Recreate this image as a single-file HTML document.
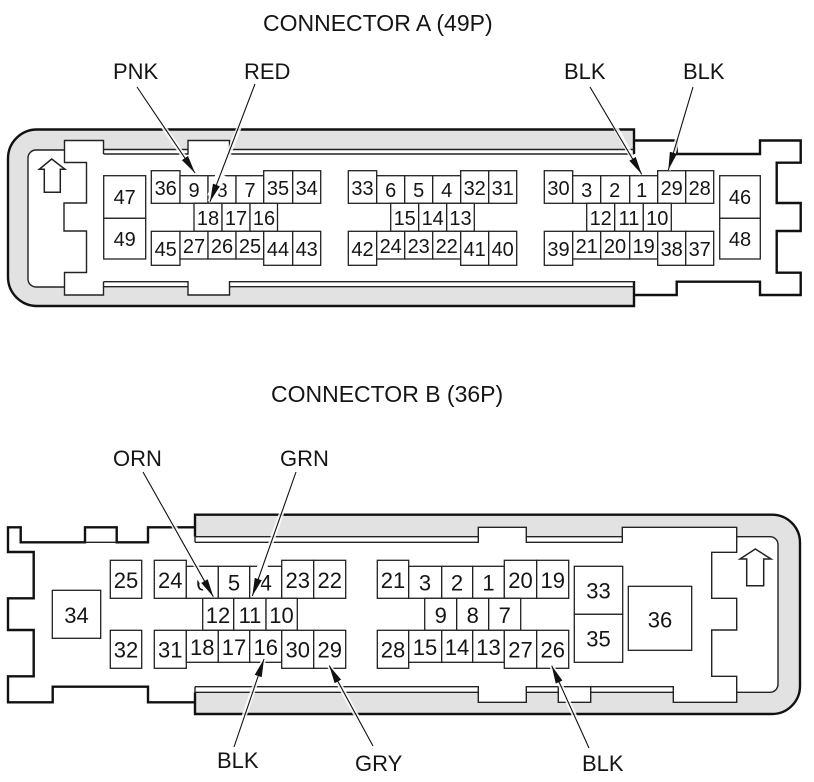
<!DOCTYPE html>
<html><head><meta charset="utf-8"><style>
html,body{margin:0;padding:0;background:#fff;width:814px;height:782px;overflow:hidden}
svg{display:block}
text{font-family:"Liberation Sans",sans-serif;fill:#151515}
.t{font-size:22px}
.tt{font-size:23px}
.a text{font-size:20px;text-anchor:middle}
.b text{font-size:22px;text-anchor:middle}
.p rect{fill:#fff;stroke:#222;stroke-width:1.3}
.o{fill:none;stroke:#111;stroke-width:2.4}
.l{fill:none;stroke:#222;stroke-width:1.4}
.h{stroke:#fff;stroke-width:5;opacity:.85}
.hh{stroke:#fff;stroke-width:10}
.k{stroke:#111;stroke-width:1.1;marker-end:url(#m)}
</style></head><body>
<svg width="814" height="782" viewBox="0 0 814 782" xmlns="http://www.w3.org/2000/svg">
<defs><marker id="m" markerUnits="userSpaceOnUse" markerWidth="20" markerHeight="10" refX="18" refY="4" orient="auto"><path d="M0,0.3 L18,4 L0,7.7 Z" fill="#111"/></marker></defs>
<rect width="814" height="782" fill="#fff"/>

<text class="tt" x="263" y="31">CONNECTOR A (49P)</text>
<text class="t" x="113" y="79">PNK</text>
<text class="t" x="244" y="79">RED</text>
<text class="t" x="564" y="79">BLK</text>
<text class="t" x="683" y="79">BLK</text>
<text class="tt" x="271" y="402">CONNECTOR B (36P)</text>
<text class="t" x="113" y="466">ORN</text>
<text class="t" x="280" y="466">GRN</text>
<text class="t" x="217" y="768">BLK</text>
<text class="t" x="355" y="771">GRY</text>
<text class="t" x="582" y="771">BLK</text>

<!-- Connector A body -->
<path d="M634,129.5 H37 a29,29 0 0 0 -29,29 V277 a29,29 0 0 0 29,29 H634 Z" fill="#e2e2e2"/>
<path d="M36,150 H64.5 V140.5 H103.5 V149.5 H188 V140.5 H229.5 V149.5 H634 V286.7 H229.5 V295 H188 V286.7 H103.5 V295 H64.5 V287 H36 a8,8 0 0 1 -8,-8 V158 a8,8 0 0 1 8,-8 Z" fill="#fff"/>
<path class="o" d="M634,154 V129.5 H37 a29,29 0 0 0 -29,29 V277 a29,29 0 0 0 29,29 H634 V281"/>
<path class="l" d="M64.5,150 H36 a8,8 0 0 0 -8,8 V279 a8,8 0 0 0 8,8 H64.5"/>
<path class="l" d="M103.5,154 V140.5 H64.5 V162.5 H86.5 V203 H64 V231 H86.5 V272.5 H64.5 V295 H103.5 V281.7"/>
<path class="l" d="M103.5,149.5 H188 M103.5,154 H188 V140.5 H229.5 V154 H634 M229.5,149.5 H634"/>
<path class="l" d="M103.5,281.7 H188 V295 H229.5 V281.7 H634 M103.5,286.7 H188 M229.5,286.7 H634"/>
<path class="o" d="M634,140.5 H676.7 V154 H760 V140.5 H800.7 V162.7 H776.7 V203 H800.7 V231 H776.7 V272.7 H800.7 V295 H760 V281.7 H676.7 V295 H634"/>
<path d="M51.7,159 L65,169.3 H60.3 V192.3 H44.3 V169.3 H39.3 Z" fill="#fff" stroke="#222" stroke-width="1.5"/>

<!-- Connector A pins -->
<g class="p">
<rect x="103.7" y="175.7" width="42" height="42.6"/><rect x="103.7" y="218.3" width="42" height="40.7"/>
<rect x="151.3" y="170.7" width="28.7" height="32.6"/><rect x="180" y="175.7" width="28" height="27.6"/><rect x="208" y="175.7" width="28" height="27.6"/><rect x="236" y="175.7" width="27.7" height="27.6"/><rect x="263.7" y="170.7" width="29" height="32.6"/><rect x="292.7" y="170.7" width="28" height="32.6"/>
<rect x="194" y="203.3" width="28" height="28"/><rect x="222" y="203.3" width="28" height="28"/><rect x="250" y="203.3" width="27.5" height="28"/>
<rect x="151.3" y="231.3" width="28.7" height="34"/><rect x="180" y="231.3" width="28" height="27.7"/><rect x="208" y="231.3" width="28" height="27.7"/><rect x="236" y="231.3" width="27.7" height="27.7"/><rect x="263.7" y="231.3" width="29" height="34"/><rect x="292.7" y="231.3" width="28" height="34"/>

<rect x="348.3" y="170.7" width="28.4" height="32.6"/><rect x="376.7" y="175.7" width="28" height="27.6"/><rect x="404.7" y="175.7" width="28" height="27.6"/><rect x="432.7" y="175.7" width="28" height="27.6"/><rect x="460.7" y="170.7" width="28" height="32.6"/><rect x="488.7" y="170.7" width="28" height="32.6"/>
<rect x="390.7" y="203.3" width="28" height="28"/><rect x="418.7" y="203.3" width="28" height="28"/><rect x="446.7" y="203.3" width="27.6" height="28"/>
<rect x="348.3" y="231.3" width="28.4" height="34"/><rect x="376.7" y="231.3" width="28" height="27.7"/><rect x="404.7" y="231.3" width="28" height="27.7"/><rect x="432.7" y="231.3" width="28" height="27.7"/><rect x="460.7" y="231.3" width="28" height="34"/><rect x="488.7" y="231.3" width="28" height="34"/>

<rect x="544.3" y="170.7" width="28.4" height="32.6"/><rect x="572.7" y="175.7" width="28" height="27.6"/><rect x="600.7" y="175.7" width="29" height="27.6"/><rect x="629.7" y="175.7" width="28" height="27.6"/><rect x="657.7" y="170.7" width="28" height="32.6"/><rect x="685.7" y="170.7" width="28" height="32.6"/>
<rect x="586.7" y="203.3" width="28" height="28"/><rect x="614.7" y="203.3" width="28.6" height="28"/><rect x="643.3" y="203.3" width="28" height="28"/>
<rect x="544.3" y="231.3" width="28.4" height="34"/><rect x="572.7" y="231.3" width="28" height="27.7"/><rect x="600.7" y="231.3" width="29" height="27.7"/><rect x="629.7" y="231.3" width="28" height="27.7"/><rect x="657.7" y="231.3" width="28" height="34"/><rect x="685.7" y="231.3" width="28" height="34"/>
<rect x="719.7" y="175.7" width="40.6" height="42.6"/><rect x="719.7" y="218.3" width="40.6" height="40.7"/>
</g>
<g class="a">
<text x="124.7" y="204">47</text><text x="124.7" y="246">49</text>
<text x="165.7" y="195">36</text><text x="194" y="197">9</text><text x="222" y="197">8</text><text x="250" y="197">7</text><text x="278" y="195">35</text><text x="306.7" y="195">34</text>
<text x="208" y="225">18</text><text x="236" y="225">17</text><text x="264" y="225">16</text>
<text x="165.7" y="256">45</text><text x="194" y="253">27</text><text x="222" y="253">26</text><text x="250" y="253">25</text><text x="278" y="256">44</text><text x="306.7" y="256">43</text>
<text x="362.5" y="195">33</text><text x="390.7" y="197">6</text><text x="418.7" y="197">5</text><text x="446.7" y="197">4</text><text x="474.7" y="195">32</text><text x="502.7" y="195">31</text>
<text x="404.7" y="225">15</text><text x="432.7" y="225">14</text><text x="460.5" y="225">13</text>
<text x="362.5" y="256">42</text><text x="390.7" y="253">24</text><text x="418.7" y="253">23</text><text x="446.7" y="253">22</text><text x="474.7" y="256">41</text><text x="502.7" y="256">40</text>
<text x="558.5" y="195">30</text><text x="586.7" y="197">3</text><text x="614.7" y="197">2</text><text x="641.7" y="197">1</text><text x="671.7" y="195">29</text><text x="699.7" y="195">28</text>
<text x="600.7" y="225">12</text><text x="629" y="225">11</text><text x="657.3" y="225">10</text>
<text x="558.5" y="256">39</text><text x="586.7" y="253">21</text><text x="615" y="253">20</text><text x="643.7" y="253">19</text><text x="671.7" y="256">38</text><text x="699.7" y="256">37</text>
<text x="740" y="204">46</text><text x="740" y="246">48</text>
</g>

<!-- Connector B body -->
<path d="M195,514.7 H772 a28,28 0 0 1 28,28 V686 a28,28 0 0 1 -28,28 H195 Z" fill="#e2e2e2"/>
<path d="M195,536.7 H478.3 V527.3 H526.3 V536.7 H622.3 V527.3 H736.7 V536.7 H770 a8,8 0 0 1 8,8 V684.3 a8,8 0 0 1 -8,8 H736.7 V702.3 H673.3 V692.3 H590.7 V702.3 H558.3 V692.3 H526.3 V702.3 H478.3 V692.3 H195 Z" fill="#fff"/>
<path class="o" d="M195,536.7 V514.7 H772 a28,28 0 0 1 28,28 V686 a28,28 0 0 1 -28,28 H195 V692.3"/>
<path class="l" d="M195,536.7 H478.3 M526.3,536.7 H622.3 M195,542.3 H478.3 V527.3 H526.3 V542.3 H622.3 V527.3 H736.7 V552.3 H711.7 V598.3 H736.7 V630 H711.7 V676.3 H736.7 V702.3 H673.3 V686.7 H526.3 V702.3 H478.3 V686.7 H195"/>
<path class="l" d="M736.7,536.7 H770 a8,8 0 0 1 8,8 V684.3 a8,8 0 0 1 -8,8 H736.7"/>
<path class="l" d="M195,692.3 H478.3 M526.3,692.3 H558.3 M590.7,692.3 H673.3 M558.3,686.7 V702.3 H590.7 V686.7"/>
<path class="l" d="M195,536.7 V542.3 M195,686.7 V692.3"/>
<path class="o" d="M195,527.3 H148 V542.3 H116.7 V527.3 H85 V542.3 H20.7 V527.3 H8 V552 H33.7 V598.3 H8 V630 H33.7 V676.3 H8 V702.3 H52.7 V686.7 H148 V702.3 H195"/>
<path d="M85,542.3 H116.7" stroke="#222" stroke-width="1.4" fill="none"/>
<path d="M755.3,549 L771,559 H763.7 V585.7 H746.7 V559 H740 Z" fill="#fff" stroke="#222" stroke-width="1.5"/>

<!-- Connector B pins -->
<g class="p">
<rect x="110.3" y="560.3" width="31.4" height="38"/><rect x="110.3" y="630.3" width="31.4" height="38"/><rect x="52.3" y="590.3" width="48.4" height="48"/>
<rect x="154.3" y="560.3" width="32" height="38"/><rect x="186.3" y="566.3" width="32" height="32"/><rect x="218.3" y="566.3" width="31.4" height="32"/><rect x="249.7" y="566.3" width="32" height="32"/><rect x="281.7" y="560.3" width="32" height="38"/><rect x="313.7" y="560.3" width="32" height="38"/>
<rect x="202.7" y="598.3" width="31" height="32"/><rect x="233.7" y="598.3" width="32.3" height="32"/><rect x="266" y="598.3" width="31.3" height="32"/>
<rect x="154.3" y="630.3" width="32" height="38"/><rect x="186.3" y="630.3" width="32" height="32"/><rect x="218.3" y="630.3" width="31.4" height="32"/><rect x="249.7" y="630.3" width="32" height="32"/><rect x="281.7" y="630.3" width="32" height="38"/><rect x="313.7" y="630.3" width="32" height="38"/>

<rect x="377.3" y="560.3" width="31.4" height="38"/><rect x="408.7" y="566.3" width="33" height="32"/><rect x="441.7" y="566.3" width="31" height="32"/><rect x="472.7" y="566.3" width="31.6" height="32"/><rect x="504.3" y="560.3" width="32.4" height="38"/><rect x="536.7" y="560.3" width="32" height="38"/>
<rect x="424.7" y="598.3" width="32" height="32"/><rect x="456.7" y="598.3" width="32" height="32"/><rect x="488.7" y="598.3" width="32" height="32"/>
<rect x="377.3" y="630.3" width="31.4" height="38"/><rect x="408.7" y="630.3" width="33" height="32"/><rect x="441.7" y="630.3" width="31" height="32"/><rect x="472.7" y="630.3" width="31.6" height="32"/><rect x="504.3" y="630.3" width="32.4" height="38"/><rect x="536.7" y="630.3" width="32" height="38"/>
<rect x="574.3" y="566.3" width="48.4" height="48"/><rect x="574.3" y="614.3" width="48.4" height="48"/><rect x="628.3" y="586.3" width="63.4" height="64"/>
</g>
<g class="b">
<text x="126" y="588">25</text><text x="126" y="657.5">32</text><text x="76.5" y="623">34</text>
<text x="170.3" y="588">24</text><text x="202.3" y="590.5">6</text><text x="234" y="590.5">5</text><text x="265.7" y="590.5">4</text><text x="297.7" y="588">23</text><text x="329.7" y="588">22</text>
<text x="218" y="623">12</text><text x="250" y="623">11</text><text x="281.5" y="623">10</text>
<text x="170.3" y="657.5">31</text><text x="202.3" y="655">18</text><text x="234" y="655">17</text><text x="265.7" y="655">16</text><text x="297.7" y="657.5">30</text><text x="329.7" y="657.5">29</text>
<text x="393" y="588">21</text><text x="425" y="590.5">3</text><text x="457" y="590.5">2</text><text x="488.5" y="590.5">1</text><text x="520.5" y="588">20</text><text x="552.7" y="588">19</text>
<text x="440.7" y="623">9</text><text x="472.7" y="623">8</text><text x="504.7" y="623">7</text>
<text x="393" y="657.5">28</text><text x="425" y="655">15</text><text x="457" y="655">14</text><text x="488.5" y="655">13</text><text x="520.5" y="657.5">27</text><text x="552.7" y="657.5">26</text>
<text x="598.5" y="598.7">33</text><text x="598.5" y="646.7">35</text><text x="660" y="627.3">36</text>
</g>

<!-- Leaders -->
<g class="h">
<line x1="150" y1="107" x2="195" y2="173"/><line x1="247" y1="107" x2="210" y2="201.7"/><line x1="604" y1="107" x2="641.7" y2="174.3"/><line x1="687" y1="107" x2="668.3" y2="170"/>
<line x1="155" y1="492" x2="213.3" y2="596.7"/><line x1="289" y1="492" x2="252.3" y2="596"/><line x1="241" y1="725" x2="264" y2="659"/><line x1="362" y1="726" x2="329.3" y2="665.7"/><line x1="580" y1="728" x2="551.7" y2="665.7"/>
</g>
<g class="hh">
<line x1="221" y1="174" x2="212" y2="197"/>
<line x1="198" y1="570" x2="210" y2="592"/>
<line x1="264" y1="562" x2="255" y2="588"/>
</g>
<g class="k">
<line x1="137" y1="87" x2="195" y2="173"/><line x1="255" y1="84" x2="210" y2="201.7"/><line x1="590" y1="87" x2="641.7" y2="174.3"/><line x1="693" y1="87" x2="668.3" y2="170"/>
<line x1="143" y1="472" x2="213.3" y2="596.7"/><line x1="296" y1="472" x2="252.3" y2="596"/><line x1="234" y1="747" x2="264" y2="659"/><line x1="373" y1="746" x2="329.3" y2="665.7"/><line x1="589" y1="748" x2="551.7" y2="665.7"/>
</g>
</svg>
</body></html>
